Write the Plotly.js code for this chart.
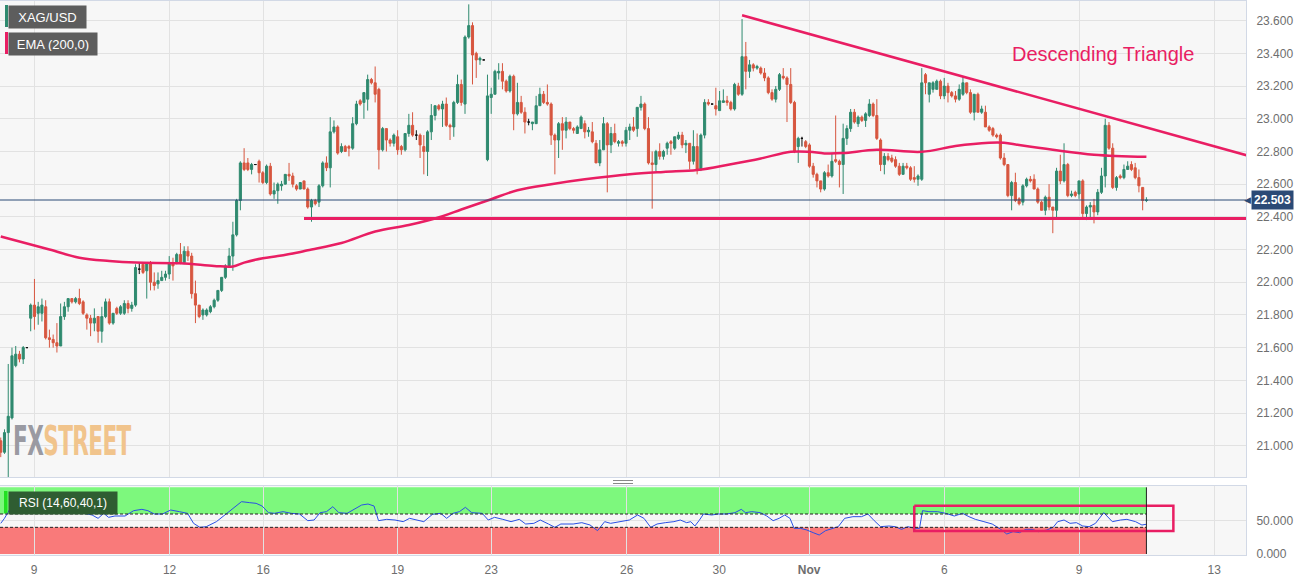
<!DOCTYPE html>
<html>
<head>
<meta charset="utf-8">
<script src="https://cdn.plot.ly/plotly-3.0.1.min.js"></script>
<style>
  html, body { margin: 0; padding: 0; background: #fff; }
  #wrap { position: relative; width: 1311px; height: 581px; }
  #chart { width: 1311px; height: 581px; }
  #wm { position: absolute; left: 13px; top: 421px; font-family: 'DejaVu Sans Condensed', 'DejaVu Sans'; font-weight: bold;
        font-size: 40px; line-height: 40px; transform: scaleX(0.6); transform-origin: left top; pointer-events: none; letter-spacing: -1px; }
</style>
</head>
<body>
<div id="wrap">
  <div id="chart"></div>
  <div id="wm"><span style="color:#9a9aa2">FX</span><span style="color:#f1c48c">STREET</span></div>
</div>
<script>
// XAG/USD 2-hour candles, 6 Oct - 10 Nov
var openP = [
  21.03,20.96,21.08,21.17,21.49,21.56,21.53,21.60,21.78,21.86,
  21.81,21.81,21.85,21.66,21.65,21.63,21.61,21.79,21.85,21.90,
  21.88,21.90,21.88,21.80,21.78,21.75,21.79,21.70,21.79,21.88,
  21.75,21.84,21.81,21.81,21.87,21.84,21.86,22.08,22.11,22.07,
  22.12,22.00,21.99,22.01,22.03,22.05,22.12,22.12,22.17,22.12,
  22.19,22.16,21.93,21.86,21.80,21.80,21.82,21.85,21.89,21.95,
  22.03,22.10,22.16,22.29,22.50,22.73,22.73,22.69,22.72,22.74,
  22.67,22.61,22.71,22.54,22.56,22.59,22.60,22.66,22.65,22.59,
  22.57,22.62,22.57,22.46,22.50,22.49,22.59,22.73,22.70,22.92,
  22.95,22.80,22.83,22.83,22.82,22.97,23.11,23.10,23.12,23.24,
  23.22,23.18,22.81,22.94,22.87,22.85,22.89,22.83,22.81,22.91,
  22.96,22.90,22.90,22.83,22.80,22.92,23.02,23.08,23.06,23.09,
  22.96,22.95,23.10,23.21,23.09,23.50,23.57,23.40,23.36,23.36,
  22.75,23.13,23.15,23.28,23.29,23.23,23.17,23.26,23.03,23.10,
  23.04,22.98,22.97,22.97,23.08,23.15,23.10,23.09,22.90,22.87,
  22.97,22.93,22.98,22.94,22.91,22.94,22.97,22.92,22.92,22.85,
  22.73,22.81,22.97,22.84,22.91,22.85,22.86,22.85,22.93,22.95,
  22.94,23.07,23.09,22.94,22.73,22.72,22.80,22.77,22.82,22.86,
  22.82,22.88,22.90,22.84,22.85,22.74,22.83,22.69,22.90,23.10,
  23.09,23.08,23.05,23.10,23.11,23.10,23.06,23.20,23.15,23.38,
  23.29,23.33,23.31,23.31,23.28,23.25,23.16,23.12,23.18,23.26,
  23.25,23.21,23.10,22.83,22.88,22.86,22.84,22.71,22.66,22.62,
  22.57,22.67,22.65,22.75,22.74,22.72,22.88,22.94,23.04,22.97,
  23.01,22.99,23.02,23.09,23.02,22.87,22.72,22.77,22.76,22.75,
  22.71,22.66,22.71,22.70,22.64,22.63,22.63,23.27,23.15,23.18,
  23.18,23.23,23.14,23.20,23.16,23.14,23.12,23.15,23.22,23.16,
  23.04,23.15,23.04,23.04,22.95,22.94,22.90,22.90,22.76,22.72,
  22.53,22.61,22.51,22.49,22.59,22.63,22.63,22.57,22.49,22.44,
  22.52,22.46,22.44,22.68,22.62,22.72,22.53,22.55,22.54,22.62,
  22.42,22.46,22.47,22.43,22.55,22.65,22.96,22.82,22.58,22.65,
  22.64,22.69,22.72,22.70,22.64,22.58,22.50
];
var highP = [
  21.05,21.10,21.50,21.60,21.61,21.58,21.61,21.60,21.87,22.02,
  21.88,21.90,21.89,21.71,21.68,21.75,21.87,21.88,21.90,21.90,
  21.91,21.96,21.89,21.81,21.80,21.84,21.79,21.85,21.90,21.90,
  21.81,21.85,21.86,21.89,21.89,21.88,22.11,22.12,22.12,22.12,
  22.13,22.06,22.06,22.07,22.07,22.16,22.15,22.18,22.24,22.22,
  22.22,22.18,22.01,21.86,21.84,21.84,21.86,21.90,21.95,22.03,
  22.11,22.21,22.37,22.51,22.74,22.82,22.76,22.73,22.72,22.75,
  22.68,22.72,22.73,22.61,22.61,22.62,22.66,22.73,22.67,22.60,
  22.61,22.62,22.58,22.51,22.51,22.60,22.74,22.77,23.01,22.99,
  22.96,22.85,22.84,22.84,23.01,23.11,23.12,23.16,23.27,23.25,
  23.32,23.19,22.95,22.94,22.88,22.91,22.93,22.84,22.91,23.03,
  23.04,22.93,22.91,22.90,22.93,23.09,23.08,23.09,23.11,23.13,
  22.97,23.11,23.27,23.24,23.51,23.70,23.59,23.41,23.38,23.36,
  23.27,23.19,23.30,23.34,23.34,23.24,23.27,23.27,23.22,23.14,
  23.07,23.00,22.98,23.14,23.19,23.17,23.21,23.10,22.91,22.98,
  23.01,23.01,22.98,22.95,22.96,23.02,22.99,22.95,22.98,22.87,
  22.87,23.01,22.98,22.95,22.97,22.87,22.87,22.95,22.97,23.01,
  23.07,23.14,23.10,23.01,22.80,22.81,22.85,22.81,22.86,22.87,
  22.89,22.92,22.92,22.87,22.85,22.93,22.91,22.91,23.12,23.12,
  23.09,23.19,23.17,23.18,23.14,23.11,23.22,23.22,23.61,23.47,
  23.36,23.34,23.33,23.32,23.31,23.26,23.18,23.20,23.28,23.31,
  23.26,23.31,23.11,22.89,22.89,22.87,22.85,22.73,22.67,22.62,
  22.68,22.72,22.79,23.02,22.75,22.97,22.96,23.06,23.06,23.02,
  23.02,23.04,23.12,23.10,23.12,22.88,22.79,22.79,22.78,22.77,
  22.73,22.73,22.73,22.71,22.71,22.66,23.31,23.28,23.22,23.23,
  23.24,23.24,23.25,23.22,23.17,23.17,23.21,23.26,23.22,23.18,
  23.15,23.16,23.08,23.08,22.96,22.95,22.91,22.91,22.79,22.72,
  22.62,22.67,22.52,22.60,22.64,22.65,22.66,22.58,22.50,22.53,
  22.60,22.46,22.70,22.78,22.85,22.73,22.56,22.56,22.62,22.63,
  22.47,22.49,22.51,22.57,22.70,23.00,22.98,22.85,22.65,22.66,
  22.72,22.74,22.74,22.73,22.69,22.58,22.52
];
var lowP = [
  20.93,20.95,20.70,21.16,21.48,21.51,21.50,21.60,21.70,21.71,
  21.74,21.76,21.65,21.60,21.60,21.57,21.61,21.77,21.82,21.87,
  21.87,21.86,21.80,21.71,21.67,21.70,21.63,21.63,21.78,21.74,
  21.74,21.80,21.80,21.80,21.81,21.82,21.85,22.05,22.05,21.90,
  21.95,21.95,21.96,22.01,22.01,22.02,22.01,22.11,22.11,22.11,
  22.13,21.90,21.75,21.78,21.77,21.79,21.81,21.84,21.88,21.94,
  22.02,22.09,22.07,22.28,22.44,22.68,22.68,22.66,22.72,22.61,
  22.60,22.60,22.53,22.51,22.48,22.56,22.60,22.62,22.58,22.56,
  22.57,22.57,22.45,22.37,22.47,22.46,22.58,22.68,22.58,22.91,
  22.78,22.79,22.80,22.77,22.81,22.96,23.08,23.00,23.05,23.21,
  23.10,22.69,22.80,22.80,22.83,22.83,22.78,22.78,22.80,22.89,
  22.89,22.87,22.76,22.66,22.65,22.87,22.99,23.05,22.95,22.95,
  22.87,22.89,23.09,23.08,23.03,23.49,23.21,23.25,23.33,23.36,
  22.74,23.03,23.15,23.24,23.18,23.16,23.16,22.93,23.02,23.03,
  22.91,22.96,22.93,22.97,23.08,23.09,23.08,22.84,22.66,22.76,
  22.81,22.88,22.93,22.91,22.91,22.94,22.88,22.89,22.85,22.73,
  22.71,22.81,22.55,22.79,22.85,22.83,22.83,22.83,22.87,22.92,
  22.89,23.05,22.93,22.72,22.45,22.68,22.75,22.75,22.78,22.78,
  22.81,22.87,22.82,22.79,22.69,22.72,22.66,22.68,22.88,23.08,
  23.09,23.02,23.05,23.10,23.08,23.05,23.05,23.14,23.14,23.18,
  23.25,23.29,23.30,23.27,23.23,23.15,23.11,23.10,23.17,23.24,
  22.98,23.09,22.79,22.73,22.83,22.82,22.70,22.64,22.58,22.55,
  22.56,22.64,22.64,22.73,22.58,22.54,22.84,22.92,22.97,22.95,
  22.98,22.95,23.01,23.01,22.87,22.68,22.66,22.74,22.73,22.70,
  22.65,22.66,22.69,22.62,22.61,22.59,22.62,23.15,23.10,23.16,
  23.18,23.12,23.12,23.10,23.13,23.10,23.11,23.14,23.15,23.03,
  22.99,23.04,23.03,22.95,22.92,22.89,22.88,22.75,22.71,22.52,
  22.44,22.49,22.47,22.47,22.58,22.61,22.57,22.48,22.44,22.41,
  22.44,22.30,22.39,22.60,22.61,22.52,22.52,22.52,22.51,22.39,
  22.38,22.39,22.36,22.41,22.54,22.58,22.81,22.57,22.56,22.63,
  22.63,22.69,22.68,22.63,22.55,22.44,22.49
];
var closeP = [
  20.96,21.08,21.18,21.55,21.56,21.53,21.60,21.60,21.86,21.79,
  21.85,21.86,21.66,21.65,21.63,21.61,21.79,21.85,21.90,21.88,
  21.90,21.87,21.81,21.78,21.75,21.78,21.70,21.79,21.88,21.75,
  21.81,21.81,21.85,21.87,21.84,21.86,22.09,22.08,22.06,22.12,
  22.00,21.98,22.01,22.03,22.05,22.12,22.10,22.17,22.12,22.19,
  22.16,21.93,21.86,21.79,21.83,21.83,21.85,21.89,21.95,22.03,
  22.10,22.16,22.29,22.50,22.73,22.69,22.69,22.72,22.72,22.67,
  22.61,22.71,22.54,22.56,22.60,22.60,22.66,22.65,22.60,22.57,
  22.61,22.57,22.46,22.50,22.48,22.59,22.73,22.70,22.92,22.95,
  22.79,22.83,22.80,22.82,22.97,23.09,23.09,23.16,23.24,23.22,
  23.15,22.81,22.94,22.87,22.85,22.90,22.81,22.81,22.91,22.96,
  22.90,22.90,22.84,22.80,22.92,23.02,23.08,23.06,23.09,22.96,
  22.95,23.10,23.21,23.10,23.50,23.57,23.39,23.36,23.37,23.36,
  23.14,23.15,23.29,23.29,23.23,23.17,23.26,23.03,23.10,23.04,
  22.98,22.98,22.98,23.08,23.15,23.10,23.09,22.90,22.87,22.97,
  22.93,22.98,22.94,22.93,22.95,23.01,22.92,22.93,22.86,22.73,
  22.81,22.97,22.84,22.91,22.86,22.86,22.85,22.93,22.95,22.93,
  23.07,23.09,22.94,22.73,22.72,22.80,22.77,22.80,22.85,22.85,
  22.89,22.90,22.84,22.85,22.74,22.83,22.69,22.90,23.10,23.09,
  23.09,23.06,23.11,23.11,23.10,23.06,23.21,23.15,23.38,23.29,
  23.33,23.31,23.32,23.28,23.25,23.16,23.12,23.18,23.27,23.25,
  23.21,23.10,22.80,22.88,22.88,22.83,22.71,22.66,22.62,22.57,
  22.67,22.65,22.74,22.74,22.72,22.88,22.94,23.04,22.98,23.01,
  22.99,23.03,23.09,23.02,22.88,22.72,22.77,22.75,22.74,22.71,
  22.66,22.71,22.70,22.63,22.63,22.65,23.22,23.22,23.22,23.22,
  23.23,23.14,23.20,23.16,23.14,23.12,23.18,23.22,23.16,23.04,
  23.15,23.04,23.06,22.95,22.93,22.90,22.89,22.76,22.72,22.53,
  22.61,22.50,22.48,22.59,22.63,22.62,22.57,22.49,22.44,22.52,
  22.46,22.44,22.68,22.62,22.72,22.53,22.54,22.53,22.62,22.42,
  22.46,22.47,22.43,22.55,22.65,22.96,22.82,22.58,22.64,22.64,
  22.69,22.71,22.69,22.64,22.59,22.50,22.503
];

// EMA(200) read at points along the curve (candle index, value)
var emaIdx = [0, 13, 21, 29, 36, 48, 57, 62, 65, 70, 74, 79, 82, 91, 100, 109, 118, 123, 131, 138,
              147, 156, 168, 177, 186, 195, 203, 211, 216, 220, 225, 234, 246, 255, 264, 268, 272, 281, 292, 306];
var emaVal = [22.28, 22.20, 22.15, 22.13, 22.12, 22.116, 22.10, 22.096, 22.12, 22.147, 22.16, 22.18, 22.196, 22.24, 22.31, 22.35, 22.404, 22.445, 22.508, 22.563,
              22.60, 22.63, 22.661, 22.675, 22.686, 22.722, 22.757, 22.798, 22.798, 22.788, 22.79, 22.81, 22.798, 22.833, 22.853, 22.853, 22.839, 22.81, 22.78, 22.767];

// RSI(14)
var rsiIdx = [0, 1, 2.4, 4.4, 6.6, 8.9, 10.5, 12.2, 14.4, 16.1, 18.3, 20.5, 22.2, 24.4, 26, 27.5, 28.8, 30.5, 33.2, 35.5,
              37.7, 39.3, 41, 43.2, 45.4, 47.7, 49.9, 51.5, 53.2, 54.9, 57.6, 60.4, 62.6, 64.3, 66.5, 68.2, 69.8, 71.5, 73.1, 75.4,
              77.6, 79.8, 82, 83.7, 85.3, 87, 88.7, 90.3, 92.5, 94.2, 96.4, 98.1, 99.7, 100.9, 103.1, 105.3, 107.5, 109.2, 110.8, 113,
              115.3, 117.5, 119.1, 120.8, 122.5, 124.1, 125.8, 128.6, 130.2, 131.9, 134.1, 136.3, 138.5, 140.2, 142.4, 144.1, 146.3, 148, 149.6, 152.9,
              155.2, 157.4, 159.4, 161.3, 162.9, 165.1, 167.9, 170.1, 171.8,
              173.6, 175.3, 177.5, 179.8, 181.5, 183.2, 184.3, 185.4, 186.5, 187.7, 189.9, 191.6, 193.9, 196.1, 197.8, 198.9, 200.6, 202.9, 204.6, 206.3,
              207.9, 209.4, 210.8, 211.9, 213.6, 215.3, 217, 218.6, 220.3, 222, 223.7, 225.4, 227.6, 229.9, 231.6, 233.3, 235, 237.2, 238.9, 240.6,
              242.3, 244, 245.4, 246.2, 247.9, 250.2, 252.4, 254.7, 256.9, 258.6, 260.3, 262.6, 264.8, 267.1, 268.7, 270.4, 272.1, 273.8, 275.5, 277.2,
              279.4, 281.1, 282.3, 284, 285.6, 287.3, 289, 290.7, 292.4, 294.6, 296.9, 299.1, 300.8, 303.1, 304.8, 305.9];
var rsiVal = [46, 53.5, 67, 68.5, 67, 70, 67, 62, 61, 67, 67, 63.5, 61, 58.5, 53.5, 61, 55, 57, 57, 65,
              67, 65, 60, 60, 66, 63.5, 61, 46, 40, 41, 48.5, 61, 71, 78.5, 77, 76, 72, 62, 61, 63.5,
              61, 60, 50, 51, 62, 63.5, 71, 62, 61, 66, 73.5, 75, 72, 50, 52, 51, 48.5, 53.5, 51, 48.5,
              59.5, 61, 53.5, 61, 63.5, 70, 62, 61, 51, 55, 52, 48.5, 52, 45, 46, 51, 45, 40, 45, 45,
              47, 43.5, 35, 48.5, 46, 48.5, 51, 58.5, 53.5,
              40, 45, 47, 48.5, 51, 47, 48.5, 42, 50, 60, 58.5, 60, 60, 62, 67, 62, 63.5, 62, 57, 50,
              53.5, 58.5, 53.5, 38.5, 38.5, 36, 32, 28.5, 35, 38.5, 41, 53.5, 56, 56, 60, 50, 41, 42, 41, 37,
              41, 38.5, 38.5, 65, 63.5, 63.5, 61, 57, 61, 56, 52, 48.5, 45, 37, 30, 33.5, 32, 37, 37, 33.5,
              36, 40, 48.5, 51, 46, 47, 42, 41, 46, 62, 48.5, 51, 52, 48.5, 43.5, 44.5];
var rsiUpper = 60, rsiLower = 40;

// analyst drawings
var triangleX = [198, 333], triangleY = [23.633, 22.775];
var supportX = [81, 333], supportY = [22.39, 22.39];
var rsiBoxX = [244, 313.2], rsiBoxY = [34.5, 72.5];

// x axis labels (candle index of each day)
var tickIdx = [8.9, 45.1, 70.1, 106, 131, 167.2, 191.9, 215.9, 252, 288, 324.1];
var tickText = ['9', '12', '16', '19', '23', '26', '30', '<b>Nov</b>', '6', '9', '13'];

var GREEN = '#2f8a6f', RED = '#d7563f', PINK = '#e91e63', NAVY = '#2b4a76';
var FONT = 'Liberation Sans, Arial, sans-serif';

var idx = openP.map(function (v, i) { return i; });
var lastIdx = idx.length - 1;
var lastClose = closeP[lastIdx];

// split flat candles (open == close) so they can be drawn black
function pick(arr, keepDoji) {
  return arr.filter(function (v, i) { return (openP[i] === closeP[i]) === keepDoji; });
}

var candles = {
  type: 'candlestick', xaxis: 'x', yaxis: 'y',
  x: pick(idx, false), open: pick(openP, false), high: pick(highP, false),
  low: pick(lowP, false), close: pick(closeP, false),
  increasing: { line: { color: GREEN, width: 1 }, fillcolor: GREEN },
  decreasing: { line: { color: RED, width: 1 }, fillcolor: RED },
  hoverinfo: 'skip', showlegend: false
};
var dojis = {
  type: 'candlestick', xaxis: 'x', yaxis: 'y',
  x: pick(idx, true), open: pick(openP, true), high: pick(highP, true),
  low: pick(lowP, true), close: pick(closeP, true),
  increasing: { line: { color: '#111', width: 1 }, fillcolor: '#111' },
  decreasing: { line: { color: '#111', width: 1 }, fillcolor: '#111' },
  hoverinfo: 'skip', showlegend: false
};
var ema = {
  type: 'scatter', mode: 'lines', x: emaIdx, y: emaVal, xaxis: 'x', yaxis: 'y',
  line: { color: PINK, width: 2.5, shape: 'spline', smoothing: 1 }, hoverinfo: 'skip', showlegend: false
};
var triangle = {
  type: 'scatter', mode: 'lines', x: triangleX, y: triangleY, xaxis: 'x', yaxis: 'y',
  line: { color: PINK, width: 2.5 }, hoverinfo: 'skip', showlegend: false
};
var support = {
  type: 'scatter', mode: 'lines', x: supportX, y: supportY, xaxis: 'x', yaxis: 'y',
  line: { color: PINK, width: 3 }, hoverinfo: 'skip', showlegend: false
};
var rsi = {
  type: 'scatter', mode: 'lines', x: rsiIdx, y: rsiVal, xaxis: 'x', yaxis: 'y2',
  line: { color: '#2a50e4', width: 1 }, hoverinfo: 'skip', showlegend: false
};
var rsiBox = {
  type: 'scatter', mode: 'lines', xaxis: 'x', yaxis: 'y2',
  x: [rsiBoxX[0], rsiBoxX[1], rsiBoxX[1], rsiBoxX[0], rsiBoxX[0]],
  y: [rsiBoxY[1], rsiBoxY[1], rsiBoxY[0], rsiBoxY[0], rsiBoxY[1]],
  line: { color: PINK, width: 2.5 }, hoverinfo: 'skip', showlegend: false
};

// page geometry helpers for the labels
var W = 1311, H = 581, M = { l: 0, r: 65, t: 1, b: 26 };
var plotW = W - M.l - M.r, plotH = H - M.t - M.b;
function px(x) { return x / plotW; }
function py(y) { return (H - M.b - y) / plotH; }

var xRange = [-0.2, 332.6];

var shapes = [
  { type: 'rect', xref: 'x', yref: 'y2', x0: xRange[0], x1: lastIdx, y0: rsiUpper, y1: 100, fillcolor: '#7df87d', line: { width: 0 }, layer: 'below' },
  { type: 'rect', xref: 'x', yref: 'y2', x0: xRange[0], x1: lastIdx, y0: 0, y1: rsiLower, fillcolor: '#f97a7a', line: { width: 0 }, layer: 'below' },
  { type: 'line', xref: 'x', yref: 'y2', x0: xRange[0], x1: lastIdx, y0: rsiUpper, y1: rsiUpper, line: { color: '#222', width: 1, dash: '3px,2px' } },
  { type: 'line', xref: 'x', yref: 'y2', x0: xRange[0], x1: lastIdx, y0: rsiLower, y1: rsiLower, line: { color: '#222', width: 1, dash: '3px,2px' } },
  { type: 'line', xref: 'x', yref: 'y2', x0: lastIdx, x1: lastIdx, y0: 0, y1: 100, line: { color: '#222', width: 1 } },
  { type: 'line', xref: 'paper', yref: 'y', x0: 0, x1: 1, y0: lastClose, y1: lastClose, line: { color: NAVY, width: 1 } },
  // colour strips of the label boxes
  { type: 'rect', xref: 'paper', yref: 'paper', x0: px(5), x1: px(8), y0: py(27), y1: py(5), fillcolor: GREEN, line: { width: 0 } },
  { type: 'rect', xref: 'paper', yref: 'paper', x0: px(5), x1: px(8), y0: py(54), y1: py(32), fillcolor: PINK, line: { width: 0 } },
  { type: 'rect', xref: 'paper', yref: 'paper', x0: px(4), x1: px(7.5), y0: py(513), y1: py(491), fillcolor: '#22e022', line: { width: 0 } },
  // pane splitter handle
  { type: 'line', xref: 'paper', yref: 'paper', x0: px(613), x1: px(633), y0: py(480.5), y1: py(480.5), line: { color: '#888', width: 1 } },
  { type: 'line', xref: 'paper', yref: 'paper', x0: px(613), x1: px(633), y0: py(483.5), y1: py(483.5), line: { color: '#888', width: 1 } }
];

var annotations = [
  { xref: 'paper', yref: 'paper', x: px(8), y: py(5), xanchor: 'left', yanchor: 'top', text: 'XAG/USD', showarrow: false,
    font: { family: FONT, size: 13, color: '#fff' }, bgcolor: '#5d5d5d', width: 69, height: 14, borderpad: 4, align: 'center' },
  { xref: 'paper', yref: 'paper', x: px(8), y: py(32), xanchor: 'left', yanchor: 'top', text: 'EMA (200,0)', showarrow: false,
    font: { family: FONT, size: 13, color: '#fff' }, bgcolor: '#5d5d5d', width: 80, height: 14, borderpad: 4, align: 'center' },
  { xref: 'paper', yref: 'paper', x: px(7.5), y: py(491), xanchor: 'left', yanchor: 'top', text: 'RSI (14,60,40,1)', showarrow: false,
    font: { family: FONT, size: 12, color: '#fff' }, bgcolor: '#2f5d32', width: 100, height: 14, borderpad: 4, align: 'center' },
  { xref: 'x', yref: 'y', x: 294.3, y: 23.396, text: 'Descending Triangle', showarrow: false,
    font: { family: FONT, size: 20, color: PINK } },
  { xref: 'paper', yref: 'y', x: px(1251), y: lastClose, xanchor: 'left', yanchor: 'middle', text: '<b>' + lastClose.toFixed(3) + '</b>',
    showarrow: false, font: { family: FONT, size: 12, color: '#fff' }, bgcolor: NAVY, borderpad: 2 },
  { xref: 'paper', yref: 'y', x: px(1253), y: lastClose, xanchor: 'right', yanchor: 'middle', text: '◀',
    showarrow: false, font: { family: 'DejaVu Sans', size: 9, color: NAVY } }
];

var axisFont = { family: FONT, size: 12, color: '#6e6e6e' };
var layout = {
  width: W, height: H, margin: M,
  paper_bgcolor: '#ffffff', plot_bgcolor: '#f7f7f7',
  showlegend: false, hovermode: false, dragmode: false, boxgap: 0.2,
  xaxis: {
    domain: [0, 1], anchor: 'y2', range: xRange, type: 'linear',
    tickmode: 'array', tickvals: tickIdx, ticktext: tickText, tickfont: axisFont,
    ticks: 'outside', ticklen: 4, tickcolor: 'rgba(0,0,0,0)',
    showgrid: true, gridcolor: '#e2e2e2', gridwidth: 1, zeroline: false,
    showline: true, linecolor: '#d2d9e6', mirror: 'all',
    rangeslider: { visible: false }, fixedrange: true
  },
  yaxis: {
    domain: [py(477), 1], anchor: 'x', side: 'right', range: [20.8085, 23.7205],
    tick0: 21, dtick: 0.2, tickformat: '.3f', tickfont: axisFont,
    ticks: 'outside', ticklen: 7, tickcolor: 'rgba(0,0,0,0)',
    showgrid: true, gridcolor: '#e2e2e2', zeroline: false,
    showline: true, linecolor: '#d2d9e6', mirror: true, fixedrange: true
  },
  yaxis2: {
    domain: [0, py(486)], anchor: 'x', side: 'right', range: [-1.5, 102],
    tickmode: 'array', tickvals: [0, 50], tickformat: '.3f', tickfont: axisFont,
    ticks: 'outside', ticklen: 7, tickcolor: 'rgba(0,0,0,0)',
    showgrid: true, gridcolor: '#e2e2e2', zeroline: false,
    showline: true, linecolor: '#d2d9e6', mirror: true, fixedrange: true
  },
  shapes: shapes,
  annotations: annotations
};

Plotly.newPlot('chart', [candles, dojis, ema, triangle, support, rsi, rsiBox], layout, { displayModeBar: false, staticPlot: true });
</script>
</body>
</html>
